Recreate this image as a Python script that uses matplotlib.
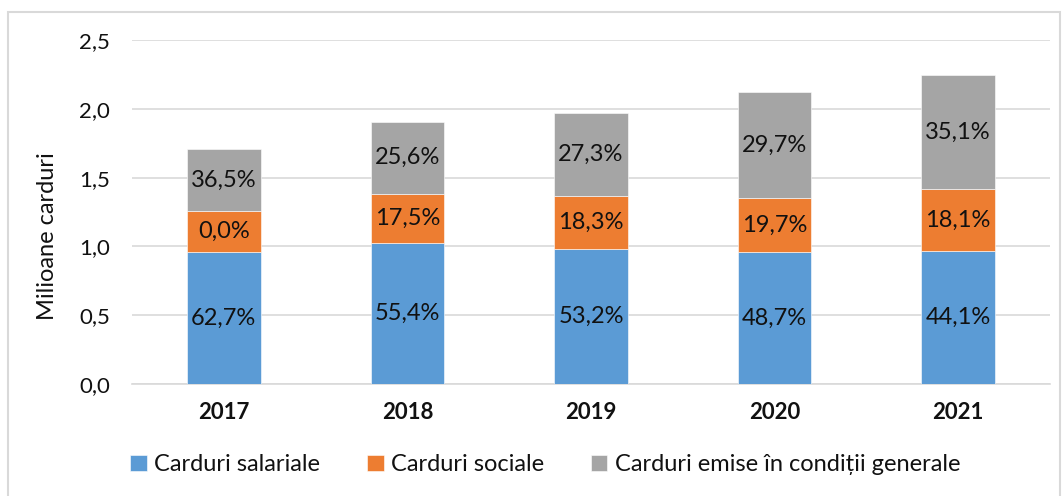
import matplotlib.pyplot as plt
import numpy as np
from matplotlib.patches import Rectangle

plt.rcParams["font.family"] = ["Lato", "DejaVu Sans"]

years = ["2017", "2018", "2019", "2020", "2021"]
salariale = [0.961, 1.027, 0.979, 0.959, 0.964]
sociale = [0.299, 0.356, 0.390, 0.395, 0.453]
generale = [0.446, 0.523, 0.603, 0.766, 0.829]

lbl_salariale = ["62,7%", "55,4%", "53,2%", "48,7%", "44,1%"]
lbl_sociale = ["0,0%", "17,5%", "18,3%", "19,7%", "18,1%"]
lbl_generale = ["36,5%", "25,6%", "27,3%", "29,7%", "35,1%"]

series = [
    ("Carduri salariale", salariale, lbl_salariale, "#5b9bd5"),
    ("Carduri sociale", sociale, lbl_sociale, "#ed7d31"),
    ("Carduri emise în condiții generale", generale, lbl_generale, "#a5a5a5"),
]

fig = plt.figure(figsize=(10.64, 4.96), dpi=100)
fig.patches.append(Rectangle((8 / 1064, -0.01), 1052 / 1064, 1 - 12 / 496 + 0.01,
                             transform=fig.transFigure, fill=False,
                             edgecolor="#d9d9d9", linewidth=1.5))
ax = fig.add_axes([132 / 1064, 1 - 384 / 496, 918 / 1064, 344 / 496])

x = np.arange(len(years))
bottom = np.zeros(len(years))
for name, vals, labels, color in series:
    bars = ax.bar(x, vals, 0.4, bottom=bottom, color=color, label=name,
                  edgecolor="white", linewidth=0.4, zorder=3)
    for b, lab in zip(bars, labels):
        ax.text(b.get_x() + b.get_width() / 2, b.get_y() + b.get_height() / 2, lab,
                ha="center", va="center", fontsize=17, color="#111111", zorder=4)
    bottom += np.array(vals)

ax.set_xlim(-0.5, len(years) - 0.5)
ax.set_ylim(0, 2.5)
ax.set_yticks(np.arange(0, 2.51, 0.5))
ax.set_yticklabels([f"{v:.1f}".replace(".", ",") for v in np.arange(0, 2.51, 0.5)])
ax.set_xticks(x)
ax.set_xticklabels(years, fontweight="bold", fontsize=16.5)
ax.tick_params(axis="both", length=0, labelsize=16, colors="#111111")
ax.tick_params(axis="x", pad=13)
ax.tick_params(axis="y", pad=16)
ax.grid(axis="y", color="#d9d9d9", linewidth=1.2, zorder=0)
for s in ["top", "right", "left"]:
    ax.spines[s].set_visible(False)
ax.spines["bottom"].set_color("#d9d9d9")
ax.spines["bottom"].set_linewidth(1.2)
ax.set_ylabel("Milioane carduri", fontsize=17, color="#111111")
ax.yaxis.set_label_coords(-0.081, 0.43)

ax.legend(loc="center", bbox_to_anchor=(0.45, -0.235), ncol=3, frameon=False,
          fontsize=17, handlelength=0.7, handleheight=0.7, handletextpad=0.3,
          columnspacing=2.0, labelcolor="#111111")

fig.savefig("out.png", dpi=100)
